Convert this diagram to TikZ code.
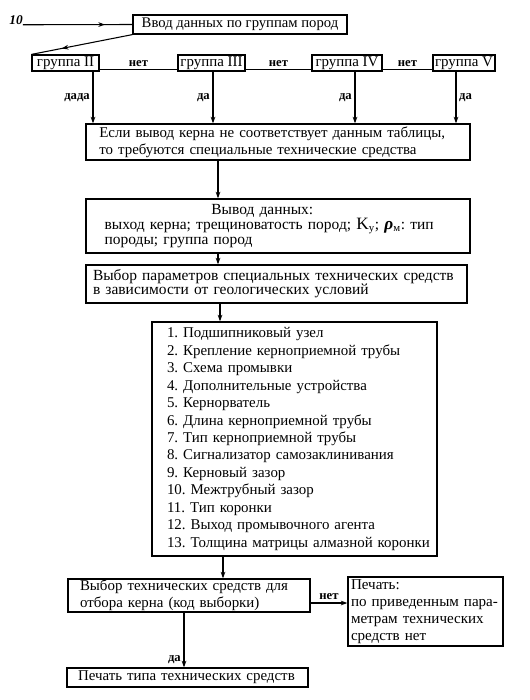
\documentclass[tikz,border=0pt]{standalone}
\usepackage{fontspec}
\setmainfont{Liberation Serif}
\usetikzlibrary{arrows.meta,decorations.markings}

\begin{document}
\frenchspacing
\begin{tikzpicture}[x=0.75pt,y=-0.75pt,
    blok/.style={draw, line width=0.9pt, rectangle, align=left, inner ysep=0pt, font=\fontsize{11.2}{12.8}\selectfont},
    gruppa/.style={draw, line width=0.9pt, rectangle, inner sep=0pt, minimum height=12pt, font=\fontsize{11.2}{12}\selectfont},
    metka/.style={font=\bfseries\fontsize{9.5}{10}\selectfont, inner sep=2pt},
    >={Stealth[length=5pt,width=3.5pt]},
    strelka/.style={postaction={decorate}, decoration={markings, mark=at position #1 with {\arrow{Stealth[length=5pt,width=3.5pt]}}}}]

    \useasboundingbox (0,0) rectangle (529,700);

    % vvod i gruppy
    \node[font=\bfseries\itshape\fontsize{10}{10}\selectfont, inner sep=0pt] (nomer) at (16,20) {10};
    \node[blok, align=center, minimum width=160.5pt, minimum height=14.25pt, inner xsep=0pt, font=\fontsize{11}{12}\selectfont] (vvod) at (240,24.5) {Ввод данных по группам пород};

    \node[gruppa, minimum width=50.25pt] (g2) at (65.5,63) {группа II};
    \node[gruppa, minimum width=50.25pt] (g3) at (211.5,63) {группа III};
    \node[gruppa, minimum width=52.5pt] (g4) at (347,63) {группа IV};
    \node[gruppa, minimum width=46.5pt] (g5) at (464,63) {группа V};

    \draw[line width=0.8pt, strelka=0.75] (nomer.south east) -- (vvod.west);
    \draw[line width=0.8pt, strelka=0.7] (vvod.south west) -- (g2.north west);

    \draw[line width=0.8pt] ([yshift=1.5pt]g2.south east) -- node[metka, above]{нет} ([yshift=1.5pt]g3.south west);
    \draw[line width=0.8pt] ([yshift=1.5pt]g3.south east) -- node[metka, above]{нет} ([yshift=1.5pt]g4.south west);
    \draw[line width=0.8pt] ([yshift=1.5pt]g4.south east) -- node[metka, above]{нет} ([yshift=1.5pt]g5.south west);

    % osnovnye bloki
    \node[blok, inner xsep=10pt, text width=268pt, minimum height=27pt] (esli) at (278,142)
      {Если вывод керна не соответствует данным таблицы,\\ то требуются специальные технические средства};
    \node[blok, inner xsep=14pt, text width=260pt, minimum height=40.5pt, font=\fontsize{11.6}{11.5}\selectfont] (vyvod) at (278,226)
      {\hspace*{80pt}Вывод данных:\\ выход керна; трещиноватость пород; {\fontsize{13}{11}\selectfont K}\textsubscript{у}; {\fontsize{13}{11}\selectfont\textbf{\textit{ρ}}}\textsubscript{м}: тип\\ породы; группа пород};
    \node[blok, inner xsep=5.25pt, text width=275.25pt, minimum height=28.5pt, font=\fontsize{11.6}{10.5}\selectfont] (vybor) at (276.5,284)
      {Выбор параметров специальных технических средств\\ в зависимости от геологических условий};
    \node[blok, inner xsep=11.25pt, text width=191.25pt, minimum height=175.5pt, font=\fontsize{11.2}{13.1}\selectfont] (spisok) at (294.5,439)
      {1. Подшипниковый узел\\
       2. Крепление керноприемной трубы\\
       3. Схема промывки\\
       4. Дополнительные устройства\\
       5. Кернорватель\\
       6. Длина кернoприемной трубы\\
       7. Тип кернoприемной трубы\\
       8. Сигнализатор самозаклинивания\\
       9. Керновый зазор\\
       10. Межтрубный зазор\\
       11. Тип коронки\\
       12. Выход промывочного агента\\
       \mbox{13. Толщина матрицы алмазной коронки}};
    \node[blok, inner xsep=9pt, text width=163.5pt, minimum height=24.75pt] (kod) at (189,595.5)
      {Выбор технических средств для\\ отбора керна (код выборки)};
    \node[blok, inner xsep=2.25pt, text width=111.75pt, minimum height=51.75pt, font=\fontsize{11.3}{12.75}\selectfont] (pechat) at (425.5,611.5)
      {Печать:\\ по приведенным пара-\\ метрам технических\\ средств нет};
    \node[blok, inner xsep=8.25pt, text width=164.25pt, minimum height=14.25pt] (tip) at (187.5,677.5)
      {Печать типа технических средств};

    % strelki
    \coordinate (x2) at (93,0);
    \coordinate (x3) at (213,0);
    \coordinate (x4) at (355,0);
    \coordinate (x5) at (456,0);
    \coordinate (x218) at (218,0);
    \coordinate (x220) at (220,0);
    \coordinate (x223) at (223,0);
    \coordinate (x184) at (184,0);
    \coordinate (y603) at (0,603);

    \draw[->, line width=0.8pt] (g2.south -| x2) -- node[metka, left]{дада} (esli.north -| x2);
    \draw[->, line width=0.8pt] (g3.south -| x3) -- node[metka, left]{да} (esli.north -| x3);
    \draw[->, line width=0.8pt] (g4.south -| x4) -- node[metka, left]{да} (esli.north -| x4);
    \draw[->, line width=0.8pt] (g5.south -| x5) -- node[metka, right]{да} (esli.north -| x5);

    \draw[->, line width=0.8pt] (esli.south -| x218) -- (vyvod.north -| x218);
    \draw[->, line width=0.8pt] (vyvod.south -| x218) -- (vybor.north -| x218);
    \draw[->, line width=0.8pt] (vybor.south -| x220) -- (spisok.north -| x220);
    \draw[->, line width=0.8pt] (spisok.south -| x223) -- (kod.north -| x223);
    \draw[->, line width=0.8pt] (kod.east |- y603) -- node[metka, above]{нет} (pechat.west |- y603);
    \draw[->, line width=0.8pt] (kod.south -| x184) -- node[metka, left, pos=0.85]{да} (tip.north -| x184);

  \end{tikzpicture}
\end{document}
